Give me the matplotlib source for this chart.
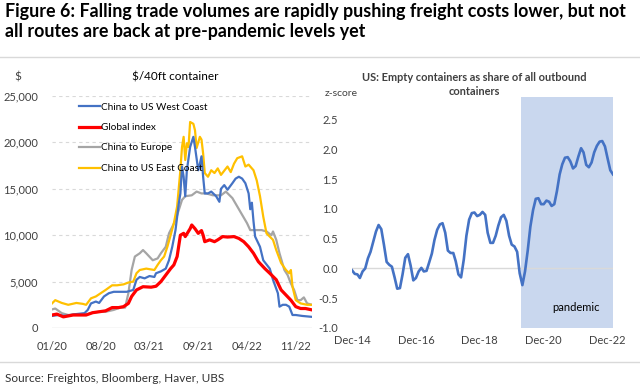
import matplotlib
matplotlib.use("Agg")
from matplotlib import pyplot as plt
from matplotlib.ticker import FuncFormatter
import pandas as pd

# left panel: weekly freight rates, $ per 40ft container (week 0 = Jan 2020)
west_weeks = [0, 4, 8, 15, 20, 22, 24, 27, 29, 32, 35, 38, 46, 50, 52, 54, 57, 60, 63, 64, 67, 70, 72, 74,
              76, 78, 79, 80, 81, 82, 83, 85, 87, 88, 90, 91, 92, 93, 94, 96, 98, 101, 103, 104, 106, 108,
              111, 113, 115, 117, 119, 121, 122, 123, 124, 125, 128, 130, 134, 136, 139, 140, 142, 144,
              146, 148, 150, 154, 160]
west_vals = [1300, 1400, 1300, 1500, 1600, 1950, 2650, 2850, 2700, 3400, 3750, 3900, 3900, 4100, 5200, 5500,
             5350, 5600, 5500, 5900, 6100, 6400, 7300, 8750, 10550, 13400, 14500, 17400, 16300, 14200,
             17000, 19500, 20600, 19500, 17000, 17700, 18500, 16300, 14500, 14500, 14700, 14200, 13600,
             15000, 15400, 14900, 15600, 16100, 16300, 16100, 15600, 14500, 12800, 13500, 11500, 9850,
             8750, 7300, 6400, 5200, 3750, 2300, 2500, 2500, 2300, 1400, 1400, 1300, 1200]

east_weeks = [0, 2, 6, 10, 15, 19, 21, 24, 27, 30, 33, 37, 40, 44, 47, 50, 52, 54, 58, 63, 65, 67, 69, 71,
              73, 75, 77, 79, 80, 81, 82, 83, 84, 85, 87, 88, 89, 91, 92, 93, 94, 96, 98, 100, 102, 104,
              108, 110, 112, 114, 117, 119, 121, 124, 126, 128, 130, 132, 136, 138, 141, 144, 146, 147,
              148, 150, 153, 157, 160]
east_vals = [2650, 3000, 2700, 2500, 2700, 2600, 2500, 3200, 3400, 3750, 4100, 4600, 4600, 4700, 4900, 5000,
             5900, 6250, 6400, 6250, 6800, 7300, 7700, 8750, 10000, 11300, 13100, 17000, 19500, 20600,
             18100, 19900, 19500, 22200, 22000, 21300, 19400, 20600, 20300, 18800, 16700, 16300, 17000,
             16700, 17200, 16500, 17400, 16800, 17700, 18300, 18500, 17400, 17600, 17000, 15900, 14200,
             12000, 10200, 9500, 8400, 7000, 6250, 5900, 6250, 4450, 3000, 2650, 2500, 2500]

global_weeks = [0, 3, 7, 13, 17, 21, 25, 29, 33, 37, 41, 44, 47, 49, 52, 56, 61, 64, 67, 70, 73, 75, 77,
                79, 81, 82, 85, 86, 88, 90, 92, 93, 94, 97, 100, 102, 105, 108, 112, 115, 118, 121, 124,
                127, 131, 134, 138, 141, 144, 147, 150, 153, 156, 160]
global_vals = [1400, 1500, 1200, 1400, 1400, 1400, 1650, 1750, 1850, 2200, 2200, 2300, 2650, 3400, 4100,
               4450, 4400, 4500, 5000, 5700, 6400, 6800, 7700, 10000, 10200, 9850, 10700, 11100, 10700,
               10200, 10500, 10000, 9300, 9500, 9300, 9500, 9850, 9800, 9850, 9650, 9300, 8750, 8050,
               7150, 6400, 5900, 5200, 4100, 3550, 3000, 2300, 2100, 2100, 1950]

europe_weeks = [0, 2, 6, 10, 15, 21, 25, 29, 33, 38, 42, 45, 47, 49, 51, 54, 56, 58, 62, 65, 67, 70, 72,
                74, 76, 78, 80, 82, 86, 89, 92, 95, 99, 104, 107, 111, 114, 117, 120, 122, 125, 129, 132,
                135, 136, 138, 140, 143, 145, 147, 149, 151, 153, 155, 157, 160]
europe_vals = [2000, 2100, 1600, 1400, 1500, 1450, 1650, 1750, 1750, 1950, 2200, 2200, 3750, 6250, 7700,
               8050, 8400, 8050, 7300, 7500, 8050, 8750, 10200, 10900, 11600, 12700, 13800, 14200, 14300,
               14700, 14500, 14500, 14300, 14300, 14700, 14000, 13100, 12200, 11300, 10550, 10550, 10550,
               10400, 10000, 10400, 9500, 8050, 6250, 5700, 4800, 4100, 3000, 3000, 3300, 2650, 2500]

week_ticks = [0, 30, 60, 90, 120, 150]
week_labels = ["01/20", "08/20", "03/21", "09/21", "04/22", "11/22"]

# right panel: monthly z-score from Dec 2014
zscore = [-0.03, -0.09, -0.1, -0.16, -0.05, 0.0, 0.17, 0.28, 0.45, 0.62, 0.73, 0.66, 0.4, 0.11, 0.06,
          0.03, -0.15, -0.34, -0.33, -0.1, 0.18, 0.24, 0.05, -0.2, -0.16, -0.05, 0.01, -0.05, -0.04, 0.1,
          0.25, 0.48, 0.65, 0.74, 0.76, 0.6, 0.3, 0.26, 0.26, 0.12, -0.1, -0.15, 0.15, 0.55, 0.82, 0.93,
          0.94, 0.88, 0.9, 0.95, 0.9, 0.6, 0.43, 0.43, 0.55, 0.72, 0.86, 0.9, 0.8, 0.55, 0.4, 0.37, 0.28,
          -0.08, -0.28, -0.05, 0.3, 0.7, 0.98, 1.17, 1.18, 1.08, 1.08, 1.14, 1.12, 1.05, 1.08, 1.3, 1.58,
          1.75, 1.86, 1.87, 1.8, 1.68, 1.72, 1.88, 2.02, 1.95, 1.74, 1.7, 1.78, 1.95, 2.06, 2.13, 2.14,
          2.05, 1.85, 1.65, 1.58]
months = pd.date_range("2014-12-01", periods=len(zscore), freq="MS")
month_ticks = pd.to_datetime(["2014-12-01", "2016-12-01", "2018-12-01", "2020-12-01", "2022-12-01"])
pandemic_start = pd.Timestamp("2020-03-15")

plt.rcParams["font.family"] = ["Lato", "DejaVu Sans"]
W, H = 640, 386
fig = plt.figure(figsize=(6.4, 3.86), dpi=100)
txt = "#404040"

fig.text(5 / W, 1 - 3 / H, "Figure 6: Falling trade volumes are rapidly pushing freight costs lower, but not\n"
         "all routes are back at pre-pandemic levels yet", fontsize=12.9, fontweight="bold",
         va="top", ha="left", color="black", linespacing=1.2)
fig.add_artist(plt.Line2D([0, 1], [1 - 57 / H, 1 - 57 / H], color="#D9D9D9", lw=1))
fig.add_artist(plt.Line2D([0, 1], [1 - 362 / H, 1 - 362 / H], color="#D9D9D9", lw=1))
fig.text(5 / W, 1 - 378 / H, "Source: Freightos, Bloomberg, Haver, UBS", fontsize=8.5,
         va="center", ha="left", color="#333333")

# left panel
ax1 = fig.add_axes([52 / W, 58 / H, 260 / W, 232 / H])
for s in ax1.spines.values():
    s.set_visible(False)
ax1.set_ylim(0, 25000)
ax1.set_xlim(0, 160)
ax1.set_yticks(range(0, 25001, 5000))
ax1.yaxis.set_major_formatter(FuncFormatter(lambda v, p: f"{v:,.0f}"))
for v in range(5000, 25001, 5000):
    ax1.axhline(v, color="#D9D9D9", lw=0.8, ls=(0, (3, 3)), zorder=0)
ax1.axhline(0, color="#D9D9D9", lw=1, zorder=0)
ax1.set_xticks(week_ticks)
ax1.set_xticklabels(week_labels)
ax1.tick_params(length=0, labelsize=8, colors=txt, pad=9)
ax1.tick_params(axis="y", pad=10)

l_eur, = ax1.plot(europe_weeks, europe_vals, color="#A5A5A5", lw=1.6)
l_east, = ax1.plot(east_weeks, east_vals, color="#FFC000", lw=1.6)
l_west, = ax1.plot(west_weeks, west_vals, color="#4472C4", lw=1.6)
l_glob, = ax1.plot(global_weeks, global_vals, color="#FF0000", lw=2.3)
ax1.legend([l_west, l_glob, l_eur, l_east],
           ["China to US West Coast", "Global index", "China to Europe", "China to US East Coast"],
           loc="upper left", bbox_to_anchor=(0.08, 1.0), frameon=False, fontsize=7.2,
           handlelength=2.1, handletextpad=0.05, labelspacing=1.15, borderaxespad=0.25)
ax1.text(0.473, 1.08, "$/40ft container", transform=ax1.transAxes, fontsize=8.5, color="black",
         ha="center", va="center")
ax1.text(-0.13, 1.08, "$", transform=ax1.transAxes, fontsize=8.5, color=txt, ha="center", va="center")

# right panel
ax2 = fig.add_axes([352 / W, 58 / H, 261 / W, 231 / H])
for s in ax2.spines.values():
    s.set_visible(False)
ax2.set_ylim(-1.0, 2.88)
ax2.set_xlim(months[0], months[-1])
ax2.axvspan(pandemic_start, months[-1], color="#C9D7EE", lw=0, zorder=0)
ax2.axhline(0, color="#D9D9D9", lw=1, zorder=1)
ax2.plot(months, zscore, color="#4472C4", lw=1.9, zorder=3)
ax2.set_yticks([-1.0, -0.5, 0.0, 0.5, 1.0, 1.5, 2.0, 2.5])
ax2.yaxis.set_major_formatter(FuncFormatter(lambda v, p: f"{v:.1f}"))
ax2.set_xticks(month_ticks)
ax2.set_xticklabels([d.strftime("%b-%y") for d in month_ticks])
ax2.tick_params(length=0, labelsize=8, colors=txt, pad=5)
ax2.tick_params(axis="y", pad=10)
ax2.text(0.86, 0.09, "pandemic", transform=ax2.transAxes, fontsize=8, color="black",
         ha="center", va="center")
ax2.text(-0.105, 1.017, "z-score", transform=ax2.transAxes, fontsize=7.5, color=txt,
         ha="left", va="center")
ax2.text(0.47, 1.0, "US: Empty containers as share of all outbound\ncontainers", transform=ax2.transAxes,
         fontsize=7.9, fontweight="bold", color=txt, ha="center", va="bottom", linespacing=1.3)

fig.savefig("out.png", dpi=100)
